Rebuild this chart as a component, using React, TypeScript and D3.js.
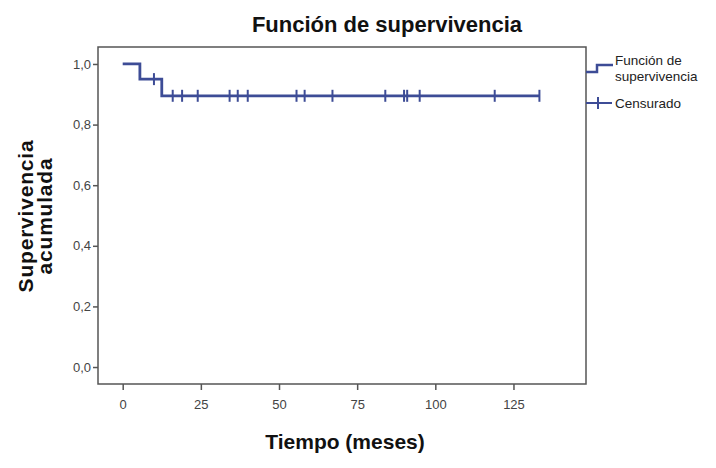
import React, { useEffect, useRef } from "react";
import * as d3 from "d3";

// Kaplan-Meier steps (months, cumulative survival)
const stepTimes = [0, 5.5, 12.5];
const stepSurvival = [1.0, 0.95, 0.895];
const lastTime = 133.3;
const censoredTimes = [10, 16, 19, 24, 34.2, 36.8, 40, 55.6, 58.2, 67.1, 84, 90, 91, 95, 119, 133.3];

const xTicks = [0, 25, 50, 75, 100, 125];
const yTicks = [0, 0.2, 0.4, 0.6, 0.8, 1.0];

const legendLabels = ["Función de", "supervivencia", "Censurado"];

const width = 716;
const height = 468;
const left = 98;
const right = 586;
const top = 47;
const bottom = 384;

const lineColor = "#3d4c96";
const frameColor = "#555";
const font = "'Liberation Sans', Arial, sans-serif";

const survivalAt = (t: number) => {
  let s = stepSurvival[0];
  stepTimes.forEach((st, i) => {
    if (t >= st) s = stepSurvival[i];
  });
  return s;
};

const App = () => {
  const ref = useRef<SVGSVGElement>(null);

  useEffect(() => {
    const svg = d3.select(ref.current);
    svg.selectAll("*").remove();

    const xScale = d3.scaleLinear().domain([-7.9, 148.2]).range([left, right]);
    const yScale = d3.scaleLinear().domain([-0.056, 1.056]).range([bottom, top]);

    // title
    svg
      .append("text")
      .attr("x", 387)
      .attr("y", 32)
      .attr("text-anchor", "middle")
      .attr("font-family", font)
      .attr("font-weight", "bold")
      .attr("font-size", 22)
      .attr("fill", "#111")
      .text("Función de supervivencia");

    // axes
    let xAxis = d3
      .axisBottom(xScale)
      .tickValues(xTicks)
      .tickFormat(d3.format("d"))
      .tickSize(6)
      .tickPadding(10);

    let gx = svg
      .append("g")
      .attr("transform", "translate(0, " + bottom + ")")
      .call(xAxis);

    let yAxis = d3
      .axisLeft(yScale)
      .tickValues(yTicks)
      .tickFormat((d) => d3.format(".1f")(d as number).replace(".", ","))
      .tickSize(5)
      .tickPadding(2);

    let gy = svg
      .append("g")
      .attr("transform", "translate(" + left + ", 0)")
      .call(yAxis);

    [gx, gy].forEach((g) => {
      g.select(".domain").remove();
      g.selectAll("line").attr("stroke", frameColor).attr("stroke-width", 1.5);
      g.selectAll("text")
        .attr("font-family", font)
        .attr("font-size", 13)
        .attr("fill", "#444");
    });

    // frame
    svg
      .append("rect")
      .attr("x", left)
      .attr("y", top)
      .attr("width", right - left)
      .attr("height", bottom - top)
      .attr("fill", "none")
      .attr("stroke", frameColor)
      .attr("stroke-width", 1.5);

    // axis titles
    svg
      .append("text")
      .attr("x", 345)
      .attr("y", 449)
      .attr("text-anchor", "middle")
      .attr("font-family", font)
      .attr("font-weight", "bold")
      .attr("font-size", 21)
      .attr("fill", "#111")
      .text("Tiempo (meses)");

    let yTitle = svg
      .append("text")
      .attr("transform", "translate(0, 216) rotate(-90)")
      .attr("text-anchor", "middle")
      .attr("font-family", font)
      .attr("font-weight", "bold")
      .attr("font-size", 21)
      .attr("letter-spacing", 0.8)
      .attr("fill", "#111");
    yTitle.append("tspan").attr("x", 0).attr("y", 33).text("Supervivencia");
    yTitle.append("tspan").attr("x", 0).attr("y", 52).text("acumulada");

    // survival curve
    let points: [number, number][] = stepTimes.map((t, i) => [t, stepSurvival[i]]);
    points.push([lastTime, stepSurvival[stepSurvival.length - 1]]);

    let line = d3
      .line<[number, number]>()
      .x((d) => xScale(d[0]))
      .y((d) => yScale(d[1]))
      .curve(d3.curveStepAfter);

    svg
      .append("path")
      .attr("d", line(points))
      .attr("fill", "none")
      .attr("stroke", lineColor)
      .attr("stroke-width", 2.8);

    // censored marks
    svg
      .selectAll(".censor")
      .data(censoredTimes)
      .enter()
      .append("line")
      .attr("class", "censor")
      .attr("x1", (d) => xScale(d))
      .attr("x2", (d) => xScale(d))
      .attr("y1", (d) => yScale(survivalAt(d)) - 6)
      .attr("y2", (d) => yScale(survivalAt(d)) + 6)
      .attr("stroke", lineColor)
      .attr("stroke-width", 2);

    // legend
    let legend = svg.append("g");
    legend
      .append("path")
      .attr("d", "M586,72 H597 V65 H613")
      .attr("fill", "none")
      .attr("stroke", lineColor)
      .attr("stroke-width", 2.5);
    legend
      .append("path")
      .attr("d", "M586,103 H612 M598,97 V109")
      .attr("fill", "none")
      .attr("stroke", lineColor)
      .attr("stroke-width", 2);

    legend
      .selectAll("text")
      .data(legendLabels)
      .enter()
      .append("text")
      .attr("x", 615)
      .attr("y", (d, i) => [65, 81, 108][i])
      .attr("font-family", font)
      .attr("font-size", 13.5)
      .attr("fill", "#222")
      .text((d) => d);
  }, []);

  return (
    <svg
      ref={ref}
      width={width}
      height={height}
      style={{ position: "absolute", left: 0, top: 0, background: "#fff" }}
    ></svg>
  );
};

export default App;
